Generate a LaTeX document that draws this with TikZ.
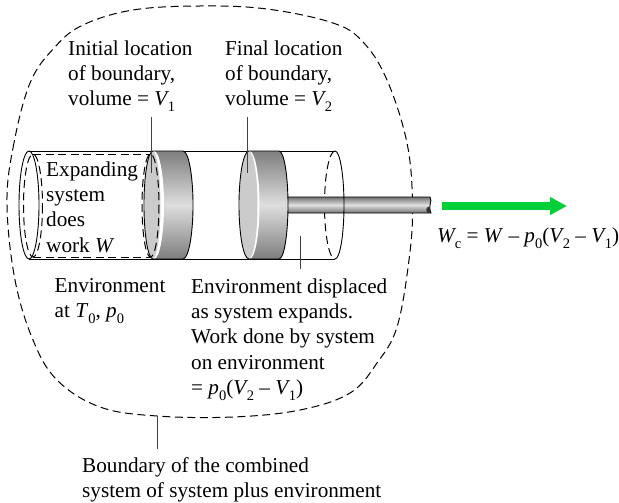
\documentclass[tikz,border=0pt]{standalone}
\usepackage{fontspec}
\setmainfont{Liberation Serif}
\usetikzlibrary{arrows.meta}
\newcommand{\lowidx}[1]{\raisebox{-0.28em}{\fontsize{14.5}{14.5}\selectfont #1}}
\newcommand{\vidx}[1]{\textit{V}\kern-1.5pt\lowidx{#1}}
\definecolor{pushgreen}{HTML}{00D038}
\definecolor{faceg}{HTML}{CBCBCB}
\definecolor{edgeg}{HTML}{7E7E7E}
\definecolor{midg}{HTML}{DEDEDE}
\tikzset{
  lbl/.style    ={anchor=north west, inner sep=0pt, align=left, font=\fontsize{21.2}{25.3}\selectfont},
  outl/.style   ={draw=black, line width=0.9pt},
  sysb/.style   ={draw=black, line width=1pt, dash pattern=on 8pt off 4.5pt},
  lead/.style   ={draw=black!75, line width=0.8pt},
  body/.style   ={top color=edgeg, bottom color=edgeg, middle color=midg, shading angle=0},
  face/.style   ={fill=faceg, draw=none},
  pusharr/.style={draw=pushgreen, line width=8pt, -{Triangle[length=17pt,width=17pt]}},
}
\begin{document}
\begin{tikzpicture}[x=1pt, y=-1pt]
  \useasboundingbox (0,0) rectangle (619,503);

  % combined boundary
  \draw[sysb] plot[smooth cycle, tension=0.62] coordinates {(7,205) (13,148) (30,83) (55,47) (83,25) (133,10) (200,6) (267,9) (333,23) (363,42) (387,80) (407,143) (412.5,205) (409,260) (397,327) (377,363) (350,393) (300,410) (233,417) (157,416) (100,407) (57,380) (33,340) (15,280)};

  % cylinder
  \draw[outl] (29,151) -- (335,151);
  \draw[outl] (29,259) -- (335,259);
  \draw[outl] (29,205) ellipse[x radius=10, y radius=54];
  \draw[sysb] (335,151) arc[start angle=-90, end angle=-270, x radius=10.5, y radius=54];

  % rod
  \shade[top color=black!55, bottom color=black!55, middle color=black!12] (288,197) -- (430,197) .. controls (433,201) and (427,208) .. (431,213) -- (288,213) -- cycle;
  \draw[outl] (288,197) -- (430,197) .. controls (433,201) and (427,208) .. (431,213) -- (288,213);
  \fill[black!80] (428.5,210) ellipse[x radius=2.2, y radius=3.2];

  % piston at final location
  \fill[white] (249,205) ellipse[x radius=10, y radius=54];
  \shade[body] (249,151) -- (279,151) arc[start angle=-90, end angle=90, x radius=9, y radius=54] -- (249,259) -- cycle;
  \fill[white] (249.5,205) ellipse[x radius=10, y radius=54];
  \path[face] (248.5,205) ellipse[x radius=9, y radius=54];
  \draw[outl] (249,151) arc[start angle=-90, end angle=-270, x radius=10, y radius=54];
  \draw[outl] (249,151) -- (279,151) arc[start angle=-90, end angle=90, x radius=9, y radius=54] -- (249,259);

  % piston at initial location
  \shade[body] (153,151) -- (183,151) arc[start angle=-90, end angle=90, x radius=10, y radius=54] -- (153,259) -- cycle;
  \fill[white] (154,205) ellipse[x radius=10, y radius=54];
  \path[face] (152.5,205) ellipse[x radius=8, y radius=54];
  \draw[outl] (153,151) arc[start angle=-90, end angle=-270, x radius=9, y radius=54];
  \draw[outl] (153,151) -- (183,151) arc[start angle=-90, end angle=90, x radius=10, y radius=54] -- (153,259);

  % cylinder end in front of the rod
  \draw[outl] (335,151) arc[start angle=-90, end angle=90, x radius=9, y radius=54];

  % expanding system
  \draw[sysb] (33,154) -- (150,154);
  \draw[sysb] (33,257) -- (150,257);
  \draw[sysb] (33,205.5) ellipse[x radius=9.5, y radius=51.5];
  \draw[sysb] (150.5,205.5) ellipse[x radius=8.5, y radius=51.5];

  % labels
  \node[lbl] (initloc) at (68,40.4) {Initial location\\of boundary,\\volume = \vidx{1}};
  \node[lbl] (finloc) at (225,40.4) {Final location\\of boundary,\\volume = \vidx{2}};
  \node[lbl] (expsys) at (46,161.4) {Expanding\\system\\does\\work \textit{W}};
  \node[lbl] (envir) at (54.5,278.4) {Environment\\at \textit{T}\lowidx{0}, \textit{p}\lowidx{0}};
  \node[lbl] (envdisp) at (191,278.4) {Environment displaced\\as system expands.\\Work done by system\\on environment\\= \textit{p}\lowidx{0}(\vidx{2} – \vidx{1})};
  \node[lbl] (bndlbl) at (82,457.5) {Boundary of the combined\\system of system plus environment};
  \node[lbl] (wcomb) at (437,227.5) {\textit{W}\kern-1.5pt\lowidx{c} = \textit{W} – \textit{p}\lowidx{0}(\vidx{2} – \vidx{1})};

  % leaders
  \coordinate (inittop) at (151,117);
  \coordinate (initend) at (151,173);
  \coordinate (fintop) at (247.5,117);
  \coordinate (finend) at (247.5,173);
  \coordinate (disptop) at (300,236);
  \coordinate (dispend) at (300,269);
  \coordinate (bndtop) at (157.5,416);
  \coordinate (bndend) at (157.5,449);
  \draw[lead] (inittop) -- (initend);
  \draw[lead] (fintop) -- (finend);
  \draw[lead] (disptop) -- (dispend);
  \draw[lead] (bndtop) -- (bndend);

  % work arrow
  \coordinate (arrfrom) at (442,206);
  \coordinate (arrto) at (567,206);
  \draw[pusharr] (arrfrom) -- (arrto);
\end{tikzpicture}
\end{document}
